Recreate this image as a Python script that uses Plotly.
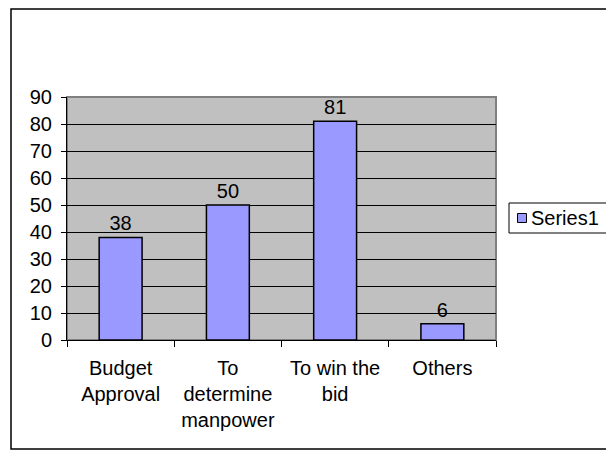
import plotly.graph_objects as go

# Chart data
categories = ["Budget<br>Approval", "To<br>determine<br>manpower", "To win the<br>bid", "Others"]
values = [38, 50, 81, 6]
series_name = "Series1"

FONT = "Liberation Sans, Arial, sans-serif"
BAR_COLOR = "#9999FF"

# plot area in pixels: x 67..496, y 97..340
PX_L, PX_R, PX_T, PX_B = 67, 496, 97, 340
W_PLOT, H_PLOT = PX_R - PX_L, PX_B - PX_T


def px_x(x):
    return (x - PX_L) / W_PLOT


def px_y(y):
    return (PX_B - y) / H_PLOT


fig = go.Figure()
fig.add_trace(go.Bar(
    x=categories,
    y=values,
    name=series_name,
    marker=dict(color=BAR_COLOR, line=dict(color="#000000", width=1.5)),
    text=[str(v) for v in values],
    textposition="outside",
    textfont=dict(family=FONT, size=20, color="#000000"),
    cliponaxis=False,
    showlegend=False,
))

fig.update_layout(
    width=606,
    height=456,
    autosize=False,
    margin=dict(l=PX_L, r=606 - PX_R, t=PX_T, b=456 - PX_B),
    paper_bgcolor="#FFFFFF",
    plot_bgcolor="#C0C0C0",
    font=dict(family=FONT, size=20, color="#000000"),
    bargap=0.6,
    showlegend=False,
    xaxis=dict(
        type="category",
        showgrid=False,
        showline=True, linecolor="#000000", linewidth=1,
        ticks="outside", ticklen=6, tickcolor="#000000", tickwidth=1,
        tickson="boundaries",
        ticklabelstandoff=10,
        tickfont=dict(family=FONT, size=20),
    ),
    yaxis=dict(
        range=[0, 90],
        dtick=10,
        showgrid=True, gridcolor="#000000", gridwidth=1,
        showline=True, linecolor="#000000", linewidth=1,
        ticks="outside", ticklen=5, tickcolor="#000000", tickwidth=1,
        ticklabelstandoff=5,
        tickfont=dict(family=FONT, size=20),
        zeroline=False,
    ),
    shapes=[
        # plot area frame
        dict(type="rect", xref="paper", yref="paper", x0=0, x1=1, y0=0, y1=1,
             line=dict(color="#808080", width=2), layer="below"),
        # chart border
        dict(type="rect", xref="paper", yref="paper",
             x0=px_x(11), x1=px_x(612), y0=px_y(449), y1=px_y(9),
             line=dict(color="#000000", width=1.5)),
        # legend box
        dict(type="rect", xref="paper", yref="paper",
             x0=px_x(509), x1=px_x(612), y0=px_y(233), y1=px_y(203),
             line=dict(color="#000000", width=1), fillcolor="#FFFFFF"),
        # legend key
        dict(type="rect", xref="paper", yref="paper",
             x0=px_x(517.5), x1=px_x(526.5), y0=px_y(222.5), y1=px_y(213.5),
             line=dict(color="#000000", width=1), fillcolor=BAR_COLOR),
    ],
    annotations=[
        dict(text=series_name, xref="paper", yref="paper",
             x=px_x(529), y=px_y(218), xanchor="left", yanchor="middle",
             showarrow=False, font=dict(family=FONT, size=20, color="#000000")),
    ],
)

fig.write_html("out.html")
